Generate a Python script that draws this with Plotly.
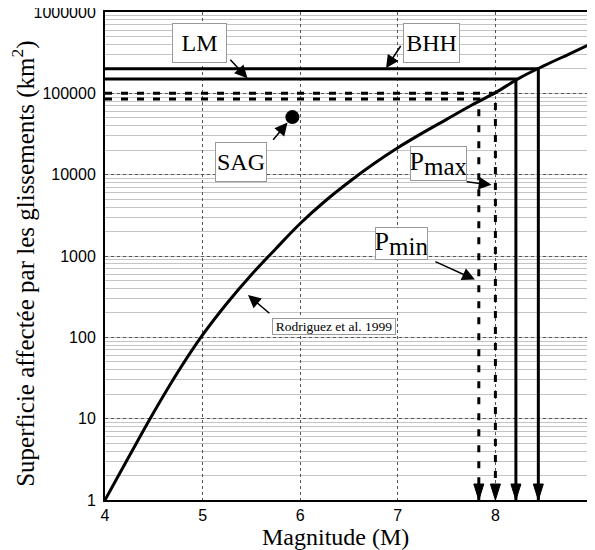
import numpy as np
import plotly.graph_objects as go

# ---- data ----
magnitude = [4.0, 4.25, 4.5, 4.75, 5.0, 5.25, 5.5, 5.75, 6.0, 6.25, 6.5, 6.75,
             7.0, 7.25, 7.5, 7.75, 8.0, 8.25, 8.5, 8.75, 9.0]
area_km2 = [1, 3.5, 12, 38, 107, 263, 589, 1230, 2510, 4680, 8130, 13500,
            21400, 32400, 47900, 70800, 102000, 155000, 219000, 302000, 417000]

level_names = ["BHH", "LM", "Pmax", "Pmin"]
level_area = [200000, 150000, 100000, 85000]
level_mag = [8.44, 8.21, 8.00, 7.83]
level_dash = ["solid", "solid", "dash", "dash"]

sag_mag = [5.92]
sag_area = [51000]

y_tickvals = [1, 10, 100, 1000, 10000, 100000, 1000000]
y_ticktext = ["1", "10", "100", "1000", "10000", "100000", "1000000"]
x_tickvals = [4, 5, 6, 7, 8, 9]
x_ticktext = ["4", "5", "6", "7", "8", "9"]

x_title = "Magnitude (M)"
y_title = "Superficie affectée par les glissements (km<sup>2</sup>)"

x_min, x_max = 4, 9
y_min = 1

fig = go.Figure()

# Rodriguez curve
fig.add_trace(go.Scatter(x=magnitude, y=area_km2, mode="lines",
                         line=dict(color="black", width=3, shape="spline", smoothing=1.0),
                         hoverinfo="skip", showlegend=False))

# horizontal + vertical level lines
for name, a, m, d in zip(level_names, level_area, level_mag, level_dash):
    dash = "solid" if d == "solid" else "7px,9px"
    fig.add_trace(go.Scatter(x=[x_min, m, m], y=[a, a, y_min], mode="lines",
                             line=dict(color="black", width=3, dash=dash),
                             hoverinfo="skip", showlegend=False, cliponaxis=False))
    # arrowhead at bottom (tip on x axis)
    fig.add_shape(type="path", xref="x", yref="paper", xsizemode="pixel", ysizemode="pixel",
                  xanchor=m, yanchor=0, path="M-5,16 L5,16 L0,0 Z",
                  fillcolor="black", line=dict(color="black", width=1), layer="above")

# SAG point
fig.add_trace(go.Scatter(x=sag_mag, y=sag_area, mode="markers",
                         marker=dict(color="black", size=14),
                         hoverinfo="skip", showlegend=False))

serif = "Liberation Serif, Times New Roman, serif"

def label(text, x, logy, w, h, size=23):
    fig.add_annotation(x=x, y=logy, xref="x", yref="y", text=text, showarrow=False,
                       font=dict(family=serif, size=size, color="black"),
                       bgcolor="white", bordercolor="#9a9a9a", borderwidth=1,
                       borderpad=0, width=w, height=h, align="center", valign="middle")

def arrow(x_tip, logy_tip, x_tail, logy_tail):
    fig.add_annotation(x=x_tip, y=logy_tip, ax=x_tail, ay=logy_tail,
                       xref="x", yref="y", axref="x", ayref="y", text="",
                       showarrow=True, arrowhead=2, arrowsize=1.7, arrowwidth=1.5,
                       arrowcolor="black", standoff=0, startstandoff=0)

label("LM", 4.97, 5.62, 53, 38, size=24)
arrow(5.46, np.log10(level_area[1]) + 0.01, 5.27, 5.43)

label("BHH", 7.35, 5.62, 55, 38, size=24)
arrow(6.88, np.log10(level_area[0]) + 0.01, 7.04, 5.60)

label("SAG", 5.39, 4.157, 50, 38, size=24)
arrow(5.87, 4.64, 5.71, 4.41)

big = '<span style="font-size:26px">P</span><sub><span style="font-size:25px">max</span></sub>'
label(big, 7.42, 4.14, 55, 33)
arrow(7.96, 3.875, 7.69, 3.915)

big2 = '<span style="font-size:26px">P</span><sub><span style="font-size:25px">min</span></sub>'
label(big2, 7.04, 3.15, 51, 31)
arrow(7.79, 2.71, 7.37, 2.94)

label("Rodriguez et al. 1999", 6.35, 2.13, 122, 15, size=13.5)
arrow(5.465, 2.52, 5.70, 2.28)

# axis titles as positioned annotations
fig.add_annotation(text=x_title, xref="paper", yref="paper", x=0.473, y=-0.076,
                   xanchor="center", yanchor="middle", showarrow=False,
                   font=dict(family=serif, size=24, color="black"))
fig.add_annotation(text=y_title, xref="paper", yref="paper", x=-0.166, y=0.484,
                   xanchor="center", yanchor="middle", showarrow=False, textangle=-90,
                   font=dict(family=serif, size=25, color="black"))

fig.update_xaxes(range=[x_min, x_max], tickvals=x_tickvals, ticktext=x_ticktext,
                 showgrid=True, gridcolor="#555555", griddash="dot", gridwidth=1,
                 showline=True, linecolor="black", linewidth=2, mirror=True,
                 zeroline=False, ticks="", automargin=False, ticklabeloverflow="allow",
                 tickfont=dict(family="Liberation Sans, Arial, sans-serif", size=16, color="black"))

fig.update_yaxes(type="log", range=[0, 6], tickvals=y_tickvals, ticktext=y_ticktext,
                 showgrid=True, gridcolor="#555555", griddash="dot", gridwidth=1,
                 minor=dict(dtick="D1", showgrid=True, gridcolor="#c4c4c4", gridwidth=1,
                            griddash="solid"),
                 showline=True, linecolor="black", linewidth=2, mirror=True,
                 zeroline=False, ticks="", ticklabelstandoff=4, automargin=False,
                 ticklabeloverflow="allow",
                 tickfont=dict(family="Liberation Sans, Arial, sans-serif", size=16, color="black"))

# the page body has an 8px margin, so the figure is shifted by 8px; compensate
fig.update_layout(width=587, height=542, margin=dict(l=97, r=2, t=4, b=50),
                  paper_bgcolor="white", plot_bgcolor="white", showlegend=False)

fig.write_html("out.html")
